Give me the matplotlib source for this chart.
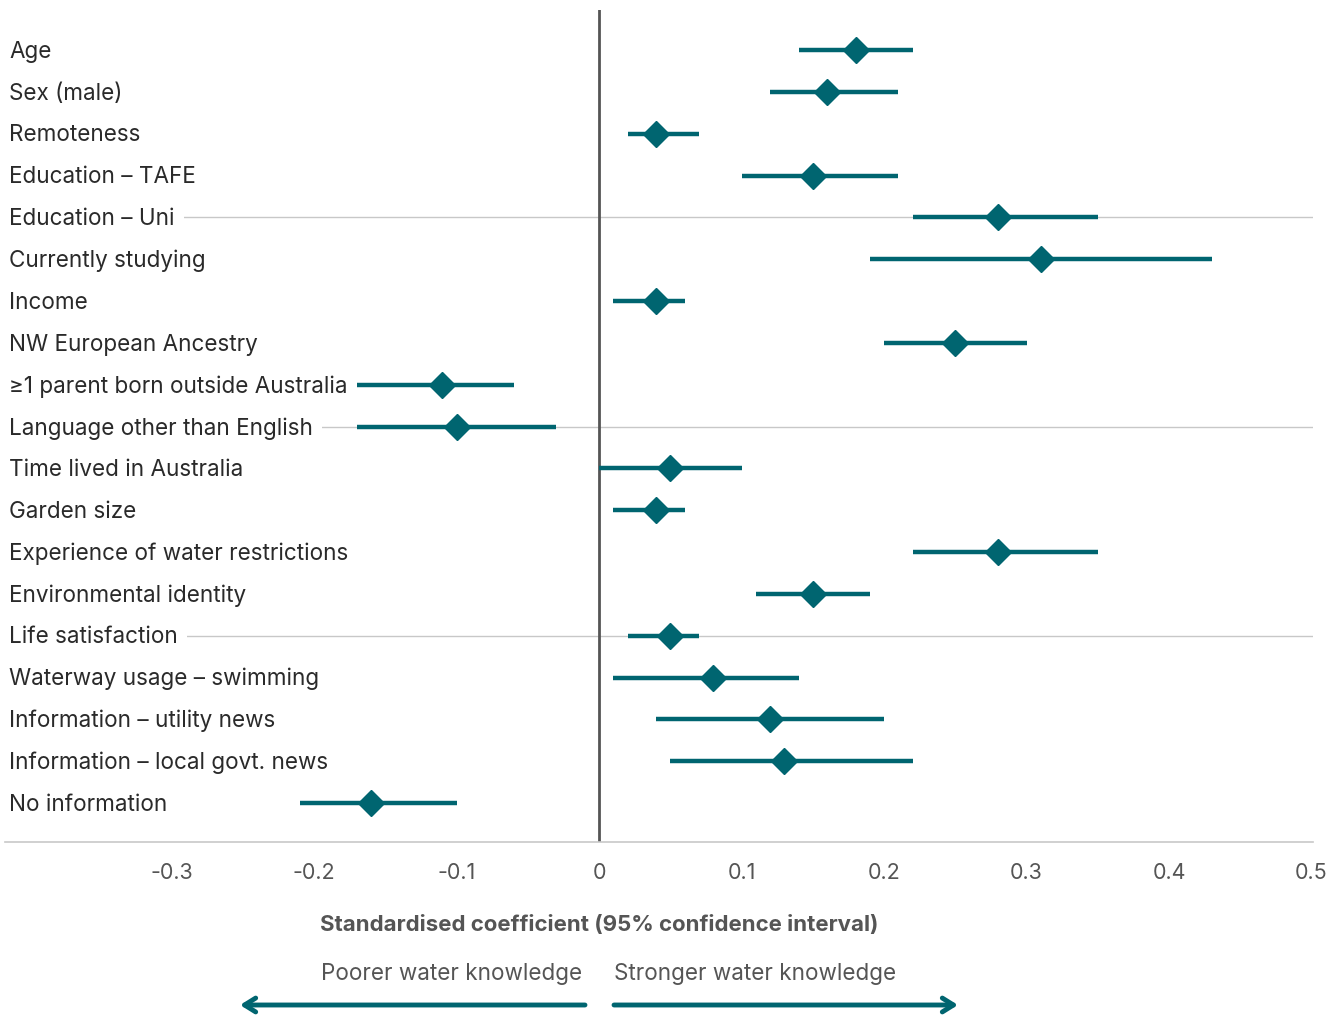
import matplotlib.pyplot as plt
from matplotlib.patches import FancyArrowPatch

# Coefficients with 95% confidence intervals
labels = ['Age', 'Sex (male)', 'Remoteness', 'Education – TAFE', 'Education – Uni',
          'Currently studying', 'Income', 'NW European Ancestry',
          '≥1 parent born outside Australia', 'Language other than English',
          'Time lived in Australia', 'Garden size', 'Experience of water restrictions',
          'Environmental identity', 'Life satisfaction', 'Waterway usage – swimming',
          'Information – utility news', 'Information – local govt. news', 'No information']
coef = [0.18, 0.16, 0.04, 0.15, 0.28, 0.31, 0.04, 0.25, -0.11, -0.10,
        0.05, 0.04, 0.28, 0.15, 0.05, 0.08, 0.12, 0.13, -0.16]
ci_low = [0.14, 0.12, 0.02, 0.10, 0.22, 0.19, 0.01, 0.20, -0.17, -0.17,
          0.00, 0.01, 0.22, 0.11, 0.02, 0.01, 0.04, 0.05, -0.21]
ci_high = [0.22, 0.21, 0.07, 0.21, 0.35, 0.43, 0.06, 0.30, -0.06, -0.03,
           0.10, 0.06, 0.35, 0.19, 0.07, 0.14, 0.20, 0.22, -0.10]
ticks = [-0.3, -0.2, -0.1, 0, 0.1, 0.2, 0.3, 0.4, 0.5]
tick_labels = ['-0.3', '-0.2', '-0.1', '0', '0.1', '0.2', '0.3', '0.4', '0.5']

teal = '#006570'
grey = '#555555'
plt.rcParams['font.family'] = ['Inter', 'DejaVu Sans']

fig = plt.figure(figsize=(13.44, 10.16), dpi=100)
ax = fig.add_axes([5 / 1344, 0.1713, 1308 / 1344, 0.8187])

rows = list(range(len(labels)))
ax.set_xlim(-0.417, 0.501)
ax.set_ylim(18.93, -0.956)

# light gridlines every five rows
for r in [4, 9, 14]:
    ax.axhline(r, color='#c8c8c8', lw=1, zorder=1)
ax.axvline(0, color=grey, lw=2, zorder=2)

for i in rows:
    ax.plot([ci_low[i], ci_high[i]], [i, i], color=teal, lw=3.2,
            solid_capstyle='butt', zorder=3)
ax.plot(coef, rows, 'D', color=teal, markersize=13, zorder=4)

for i, lab in enumerate(labels):
    ax.text(0.003, i + 0.04, lab, transform=ax.get_yaxis_transform(), ha='left',
            va='center', fontsize=16.2, color='#2a2a2a', zorder=5,
            bbox=dict(facecolor='white', edgecolor='none', pad=7))

for s in ['top', 'right', 'left']:
    ax.spines[s].set_visible(False)
ax.spines['bottom'].set_color('#c8c8c8')
ax.spines['bottom'].set_linewidth(1.2)
ax.set_yticks([])
ax.set_xticks(ticks)
ax.set_xticklabels(tick_labels, fontsize=15.5, color=grey)
ax.tick_params(axis='x', length=0, pad=15)

fig.text(599 / 1344, 1 - 925 / 1016, 'Standardised coefficient (95% confidence interval)',
         ha='center', va='center', fontsize=16, fontweight='bold', color=grey)
fig.text(582 / 1344, 1 - 974 / 1016, 'Poorer water knowledge', ha='right',
         va='center', fontsize=16.2, color=grey)
fig.text(614 / 1344, 1 - 974 / 1016, 'Stronger water knowledge', ha='left',
         va='center', fontsize=16.2, color=grey)

ya = 1 - 1005 / 1016
for x0, x1 in [(585, 240), (614, 958)]:
    arr = FancyArrowPatch((x0 / 1344, ya), (x1 / 1344, ya), transform=fig.transFigure,
                          arrowstyle='->,head_length=8,head_width=5', color=teal, lw=3.5,
                          shrinkA=0, shrinkB=0)
    fig.add_artist(arr)

fig.savefig('out.png', dpi=100)
